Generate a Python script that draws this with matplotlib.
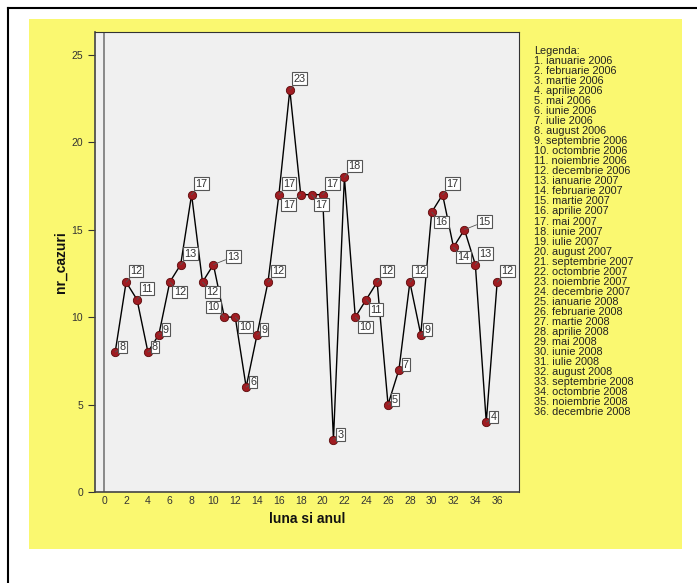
import matplotlib

matplotlib.use("Agg")
import matplotlib.pyplot as plt
from matplotlib.lines import Line2D

plt.rcParams["font.family"] = ["Liberation Sans", "DejaVu Sans"]

# luna (1..36) si numarul de cazuri
months = list(range(1, 37))
cases = [8, 12, 11, 8, 9, 12, 13, 17, 12, 13, 10, 10,
         6, 9, 12, 17, 23, 17, 17, 17, 3, 18, 10, 11,
         12, 5, 7, 12, 9, 16, 17, 14, 15, 13, 4, 12]

month_names = ["ianuarie", "februarie", "martie", "aprilie", "mai", "iunie",
               "iulie", "august", "septembrie", "octombrie", "noiembrie",
               "decembrie"]
years = [2006, 2007, 2008]

x_ticks = list(range(0, 37, 2))
y_ticks = [0, 5, 10, 15, 20, 25]

# where each value label sits relative to its point (pixels)
label_offsets = {
    "r": (7, 5), "ur": (10, 11), "ur2": (20, 8), "lr": (10, -10),
    "ll": (-12, -10), "ul": (-11, 10),
}
label_pos = ["r", "ur", "ur", "r", "r", "lr", "ur", "ur", "lr", "ur2", "ul", "lr",
             "r", "r", "ur", "ur", "ur", "ll", "lr", "ur", "r", "ur", "lr", "lr",
             "ur", "r", "r", "ur", "r", "lr", "ur", "lr", "ur2", "ur", "r", "ur"]

W, H = 697, 583
fig = plt.figure(figsize=(W / 100, H / 100), dpi=100)
fig.patch.set_facecolor("white")

# yellow panel and the thin black frame
fig.patches.append(plt.Rectangle((29 / W, 1 - 549 / H), (682 - 29) / W, (549 - 19) / H,
                                 transform=fig.transFigure, facecolor="#FAF870",
                                 edgecolor="none", zorder=-10))
fig.lines.append(Line2D([8 / W, 8 / W], [0, 1 - 8 / H], transform=fig.transFigure,
                        color="black", lw=1.5))
fig.lines.append(Line2D([8 / W, 1], [1 - 8 / H, 1 - 8 / H], transform=fig.transFigure,
                        color="black", lw=1.5))

ax = fig.add_axes([95 / W, 1 - 492 / H, (519 - 95) / W, (492 - 32) / H])
ax.set_facecolor("#F0F0F0")
ax.set_xlim(-0.85, 38)
ax.set_ylim(0, 26.3)
ax.axvline(0, color="#777777", lw=1.2, zorder=1)

ax.plot(months, cases, color="black", lw=1.0, zorder=2)
ax.scatter(months, cases, s=36, color="#A01C22", edgecolor="#5C0A0A",
           linewidth=0.6, zorder=3)

px = 72 / 100
for m, c, pos in zip(months, cases, label_pos):
    dx, dy = label_offsets[pos]
    ax.annotate(str(c), (m, c), xytext=(dx * px, dy * px), textcoords="offset points",
                ha="center", va="center", fontsize=7.8, color="#333333", zorder=4,
                bbox=dict(boxstyle="square,pad=0.12", facecolor="white",
                          edgecolor="#555555", lw=0.8),
                arrowprops=dict(arrowstyle="-", color="#555555", lw=0.6,
                                shrinkA=0, shrinkB=0))

ax.set_xticks(x_ticks)
ax.set_yticks(y_ticks)
ax.tick_params(axis="both", labelsize=7.5, colors="#333333", width=0.8,
               direction="out")
ax.tick_params(axis="y", length=5)
ax.tick_params(axis="x", length=0, pad=3)
for side in ["top", "right"]:
    ax.spines[side].set_color("#333333")
    ax.spines[side].set_linewidth(0.8)
for side in ["left", "bottom"]:
    ax.spines[side].set_color("#444444")
    ax.spines[side].set_linewidth(1.2)

ax.set_xlabel("luna si anul", fontsize=10, fontweight="bold", color="#111111", labelpad=4)
ax.set_ylabel("nr_cazuri", fontsize=10, fontweight="bold", color="#111111", labelpad=3)

# legend text on the right
legend_lines = ["Legenda:"]
i = 1
for y in years:
    for name in month_names:
        legend_lines.append(f"{i}. {name} {y}")
        i += 1
for k, line in enumerate(legend_lines):
    fig.text(534 / W, 1 - (51 + k * 10.03) / H, line, fontsize=7.8, color="#222222",
             ha="left", va="center")

fig.savefig("out.png", dpi=100)
